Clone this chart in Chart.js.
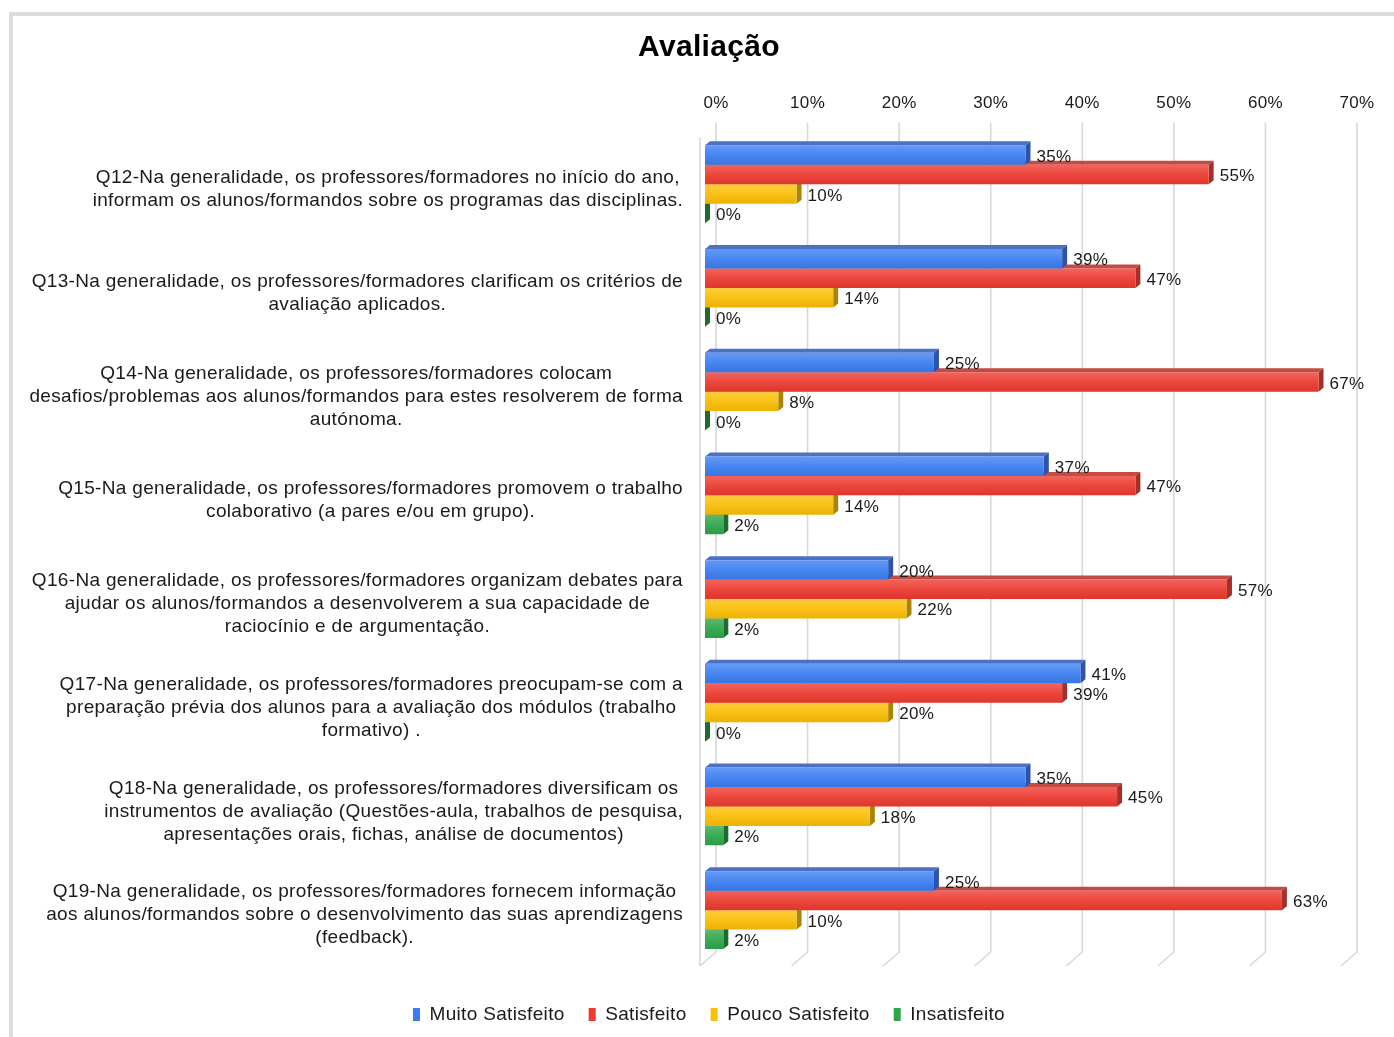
<!DOCTYPE html>
<html>
<head>
<meta charset="utf-8">
<script src="https://cdn.jsdelivr.net/npm/chart.js@4.4.1/dist/chart.umd.min.js"></script>
<style>
    body { margin: 0; background: #fff; }
    #frame { position: absolute; left: 9px; top: 12px; right: 0; bottom: 0; border-left: 4px solid #dcdcdc; border-top: 4px solid #dcdcdc; }
    #chart { position: absolute; left: 0; top: 0; }
</style>
</head>
<body>
<div id="frame"></div>
<canvas id="chart" width="1394" height="1037"></canvas>
<script>
// question labels (one array per category, one string per line)
const questions = [
    ["Q12-Na generalidade, os professores/formadores no início do ano,", "informam os alunos/formandos sobre os programas das disciplinas."],
    ["Q13-Na generalidade, os professores/formadores clarificam os critérios de", "avaliação aplicados."],
    ["Q14-Na generalidade, os professores/formadores colocam", "desafios/problemas aos alunos/formandos para estes resolverem de forma", "autónoma."],
    ["Q15-Na generalidade, os professores/formadores promovem o trabalho", "colaborativo (a pares e/ou em grupo)."],
    ["Q16-Na generalidade, os professores/formadores organizam debates para", "ajudar os alunos/formandos a desenvolverem a sua capacidade de", "raciocínio e de argumentação."],
    ["Q17-Na generalidade, os professores/formadores preocupam-se com a", "preparação prévia dos alunos para a avaliação dos módulos (trabalho", "formativo) ."],
    ["Q18-Na generalidade, os professores/formadores diversificam os", "instrumentos de avaliação (Questões-aula, trabalhos de pesquisa,", "apresentações orais, fichas, análise de documentos)"],
    ["Q19-Na generalidade, os professores/formadores fornecem informação", "aos alunos/formandos sobre o desenvolvimento das suas aprendizagens", "(feedback)."]
];

const muitoSatisfeito = [35, 39, 25, 37, 20, 41, 35, 25];
const satisfeito      = [55, 47, 67, 47, 57, 39, 45, 63];
const poucoSatisfeito = [10, 14, 8, 14, 22, 20, 18, 10];
const insatisfeito    = [0, 0, 0, 2, 2, 0, 2, 2];

const xMin = 0;
const xMax = 70;
const xStep = 10;

const FONT = "'Liberation Sans', Arial, sans-serif";
const SPACING = "0.33px";
const DX = 5, DY = 4; // bar depth

// the reference text is a bit loosely spaced
const textSpacing = {
    id: "textSpacing",
    beforeLayout(chart) { chart.ctx.letterSpacing = SPACING; },
    beforeDraw(chart) { chart.ctx.letterSpacing = SPACING; },
};

// 3d faces + shading for each bar
const bar3d = {
    id: "bar3d",
    beforeDatasetDraw(chart, args) {
        const ctx = chart.ctx;
        const ds = chart.data.datasets[args.index];
        ctx.save();
        args.meta.data.forEach(bar => {
            const { x, y, base, height } = bar.getProps(["x", "y", "base", "height"], true);
            const top = y - height / 2, bottom = y + height / 2;
            ctx.fillStyle = ds.topColor;
            ctx.beginPath();
            ctx.moveTo(base, top);
            ctx.lineTo(x, top);
            ctx.lineTo(x + DX, top - DY);
            ctx.lineTo(base + DX, top - DY);
            ctx.closePath();
            ctx.fill();
            ctx.fillStyle = ds.sideColor;
            ctx.beginPath();
            ctx.moveTo(x, top);
            ctx.lineTo(x + DX, top - DY);
            ctx.lineTo(x + DX, bottom - DY);
            ctx.lineTo(x, bottom);
            ctx.closePath();
            ctx.fill();
        });
        ctx.restore();
    },
    afterDatasetDraw(chart, args) {
        const ctx = chart.ctx;
        ctx.save();
        args.meta.data.forEach(bar => {
            const { x, y, base, height } = bar.getProps(["x", "y", "base", "height"], true);
            const top = y - height / 2;
            const g = ctx.createLinearGradient(0, top, 0, top + height);
            g.addColorStop(0, "rgba(255,255,255,0.22)");
            g.addColorStop(0.45, "rgba(255,255,255,0.08)");
            g.addColorStop(1, "rgba(0,0,0,0.06)");
            ctx.fillStyle = g;
            ctx.fillRect(base, top, x - base, height);
        });
        ctx.restore();
    }
};

// slanted back-wall grid
const wallGrid = {
    id: "wallGrid",
    beforeDatasetsDraw(chart) {
        const { ctx, chartArea } = chart;
        const xs = chart.scales.x;
        ctx.save();
        ctx.strokeStyle = "#d8d8d8";
        ctx.lineWidth = 1.6;
        xs.ticks.forEach(t => {
            const f = xs.getPixelForValue(t.value);
            ctx.beginPath();
            ctx.moveTo(f + 11, chartArea.top - 10);
            ctx.lineTo(f + 11, chartArea.bottom - 10);
            ctx.lineTo(f - 5, chartArea.bottom + 4);
            ctx.stroke();
        });
        const f0 = xs.getPixelForValue(xMin);
        ctx.beginPath();
        ctx.moveTo(f0 - 5, chartArea.top + 5);
        ctx.lineTo(f0 - 5, chartArea.bottom + 4);
        ctx.stroke();
        ctx.restore();
    }
};

// category labels: each block centred on itself, right edge aligned
const questionLabels = {
    id: "questionLabels",
    afterDraw(chart) {
        const ctx = chart.ctx;
        const ys = chart.scales.y;
        const right = chart.chartArea.left - 22;
        ctx.save();
        ctx.letterSpacing = SPACING;
        ctx.font = "19px " + FONT;
        ctx.fillStyle = "#1a1a1a";
        ctx.textAlign = "center";
        ctx.textBaseline = "middle";
        const lh = 23;
        questions.forEach((lines, i) => {
            const w = Math.max(...lines.map(l => ctx.measureText(l).width));
            const cx = right - w / 2;
            const cy = ys.getPixelForTick(i) + 5;
            lines.forEach((l, j) => {
                ctx.fillText(l, cx, cy + (j - (lines.length - 1) / 2) * lh);
            });
        });
        ctx.restore();
    }
};

// value labels at bar ends
const valueLabels = {
    id: "valueLabels",
    afterDraw(chart) {
        const ctx = chart.ctx;
        ctx.save();
        ctx.letterSpacing = SPACING;
        ctx.font = "17px " + FONT;
        ctx.fillStyle = "#1a1a1a";
        ctx.textAlign = "left";
        ctx.textBaseline = "middle";
        chart.data.datasets.forEach((ds, di) => {
            chart.getDatasetMeta(di).data.forEach((bar, i) => {
                const { x, y } = bar.getProps(["x", "y"], true);
                ctx.fillText(ds.data[i] + "%", x + DX + 6, y + 2);
            });
        });
        ctx.restore();
    }
};

function initChart() {
    const ctx = document.getElementById("chart");
    new Chart(ctx, {
        type: "bar",
        data: {
            labels: questions,
            datasets: [
                { label: "Muito Satisfeito", data: muitoSatisfeito, backgroundColor: "#3b7ef2", topColor: "#4b70c4", sideColor: "#2c54ad" },
                { label: "Satisfeito", data: satisfeito, backgroundColor: "#ec3a30", topColor: "#c44a44", sideColor: "#a52f29" },
                { label: "Pouco Satisfeito", data: poucoSatisfeito, backgroundColor: "#fbbe06", topColor: "#d8a600", sideColor: "#a88408" },
                { label: "Insatisfeito", data: insatisfeito, backgroundColor: "#2ea64a", topColor: "#27853d", sideColor: "#1d6b30" },
            ],
        },
        options: {
            indexAxis: "y",
            responsive: false,
            animation: false,
            devicePixelRatio: 1,
            datasets: { bar: { barPercentage: 1, categoryPercentage: 0.75 } },
            layout: { padding: { left: 72, right: 48, top: 14, bottom: 3 } },
            scales: {
                x: {
                    position: "top",
                    min: xMin,
                    max: xMax,
                    grid: { display: false, drawTicks: false },
                    border: { display: false },
                    ticks: {
                        stepSize: xStep,
                        padding: 19,
                        labelOffset: 11,
                        color: "#1a1a1a",
                        font: { size: 17, family: FONT },
                        callback: v => v + "%",
                    },
                },
                // spacer between plot and legend
                x2: {
                    type: "linear",
                    position: "bottom",
                    display: true,
                    grid: { display: false, drawTicks: false },
                    border: { display: false },
                    ticks: { display: false },
                    afterFit: s => { s.height = 19; },
                },
                y: {
                    grid: { display: false, drawTicks: false },
                    border: { display: false },
                    ticks: { display: false },
                    afterFit: s => { s.width = 705 - 72; },
                },
            },
            plugins: {
                title: {
                    display: true,
                    text: "Avaliação",
                    color: "#000",
                    font: { size: 30, weight: "bold", family: FONT },
                    padding: { top: 16, bottom: 8 },
                },
                legend: {
                    position: "bottom",
                    labels: {
                        boxWidth: 7,
                        boxHeight: 13,
                        padding: 24,
                        color: "#1a1a1a",
                        font: { size: 19, family: FONT },
                    },
                },
                tooltip: { enabled: false },
            },
        },
        plugins: [textSpacing, wallGrid, bar3d, questionLabels, valueLabels],
    });
}

window.addEventListener("DOMContentLoaded", () => {
    initChart();
});
</script>
</body>
</html>
